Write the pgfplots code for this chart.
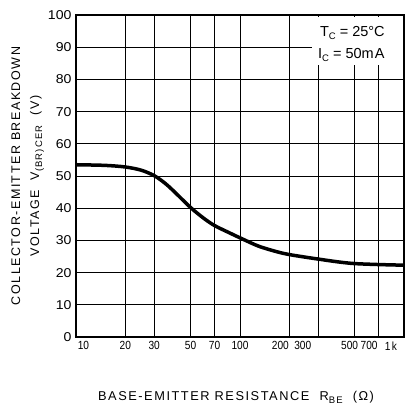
\documentclass[border=0pt]{standalone}
\usepackage{pgfplots}
\pgfplotsset{compat=1.18}
\usepackage{fontspec}
\setmainfont{Liberation Sans}
\newfontfamily\spaced{Liberation Sans}[LetterSpace=12]
\newcommand{\xl}[1]{\scalebox{0.86}[1]{#1}}
\newcommand{\yl}[1]{\scalebox{1.1}[1]{#1}}
\newcommand{\sub}[2][-3pt]{\raisebox{#1}{\fontsize{9.5}{10}\selectfont #2}}
\begin{document}
\begin{tikzpicture}
\begin{axis}[
  name=ax,
  scale only axis,
  width=328pt, height=322pt,
  xmode=log, xmin=10, xmax=1000, ymin=0, ymax=100,
  xtick={10,20,30,50,70,100,200,300,500,700,1000},
  xticklabels={\hspace*{15pt}\xl{10},\xl{20},\xl{30},\xl{50},\xl{70},\xl{100},\xl{200}\hspace*{18pt},\xl{300}\hspace*{31pt},\xl{500}\hspace*{10pt},\xl{700}\hspace*{19pt},\xl{1\hspace{1.5pt}k}\hspace*{26pt}},
  ytick={0,10,20,30,40,50,60,70,80,90,100},
  yticklabels={\yl{0},\yl{10},\yl{20},\yl{30},\yl{40},\yl{50},\yl{60},\yl{70},\yl{80},\yl{90},\yl{100}},
  minor xtick={}, minor ytick={},
  major tick length=0pt,
  grid=major,
  major grid style={black, line width=0.9pt},
  axis line style={black, line width=1.5pt},
  xticklabel style={font=\fontsize{11.8}{14}\selectfont, yshift=-1pt},
  yticklabel style={font=\fontsize{12.8}{15}\selectfont, xshift=-1pt},
  /pgf/number format/assume math mode=true,
  xlabel={{\spaced BASE-EMITTER RESISTANCE\ \ R\sub{BE}\ \ (Ω)}},
  xlabel style={font=\fontsize{12.8}{14}\selectfont, at={(axis description cs:0.488,-0.188)}, anchor=center},
  ylabel={{\spaced COLLECTOR-EMITTER BREAKDOWN}\\[4pt]{\spaced VOLTAGE\ \ V\sub{(BR)CER}\ \ (V)}},
  ylabel style={font=\fontsize{12.5}{15}\selectfont, align=center, at={(axis description cs:-0.147,0.5)}, anchor=center},
]
\addplot[black, line width=3.5pt, smooth] coordinates {
(10,53.5) (15,53.3) (20,52.8) (25,51.8) (30,50.1) (35,47.7) (40,45.0) (50,40.2) (60,36.9) (70,34.6) (85,32.5) (100,30.8) (130,28.2) (170,26.4) (200,25.6) (250,24.8) (300,24.2) (400,23.3) (500,22.8) (700,22.5) (1000,22.3)
};
\fill[white] (axis cs:275,84.5) rectangle (axis cs:985,99.4);
\node[anchor=west, font=\fontsize{14.5}{16}\selectfont, inner sep=0pt] at (axis cs:307,94.4) {T\sub[-2.5pt]{C}\hspace{4pt}=\hspace{4pt}25°C};
\node[anchor=west, font=\fontsize{14.5}{16}\selectfont, inner sep=0pt] at (axis cs:299,87.6) {I\sub[-2.5pt]{C}\hspace{4pt}=\hspace{4pt}50m\hspace{1pt}A};
\draw[black, line width=2.5pt] (rel axis cs:0,1) -- (rel axis cs:1,1) -- (rel axis cs:1,0);
\end{axis}
\pgfresetboundingbox
\path ([shift={(-76pt,-68pt)}]ax.south west) rectangle ([shift={(7pt,15pt)}]ax.north east);
\end{tikzpicture}
\end{document}
